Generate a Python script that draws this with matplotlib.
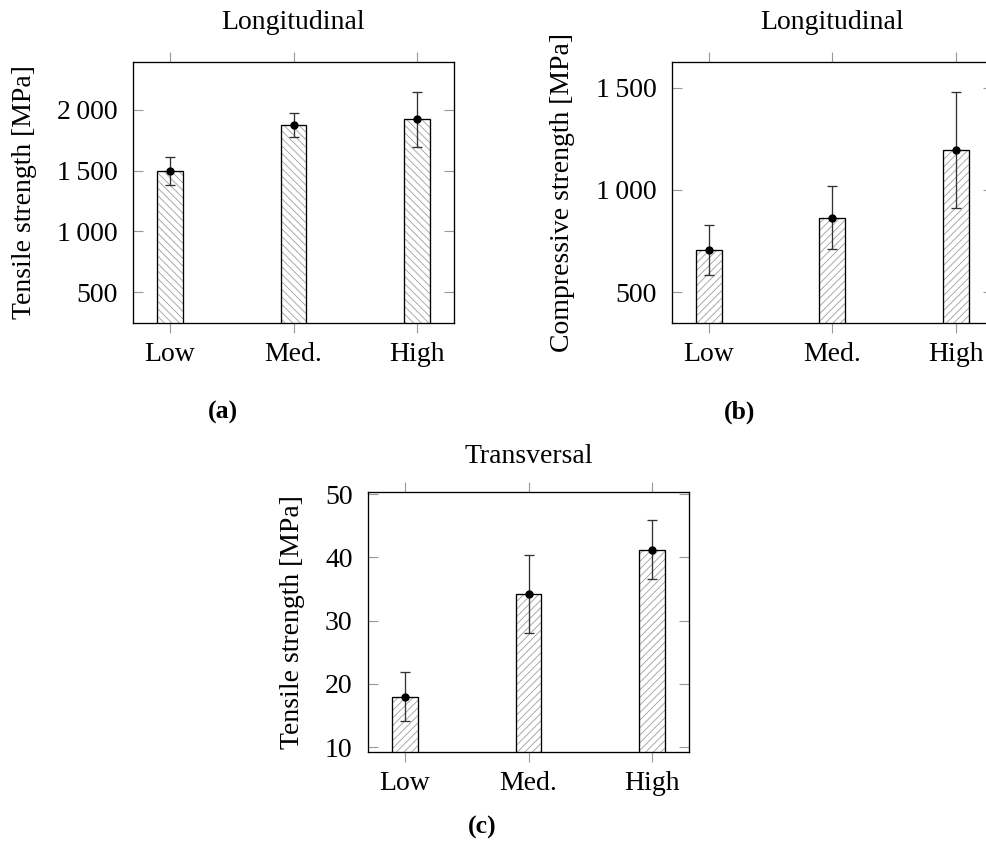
import numpy as np
import matplotlib
matplotlib.use("Agg")
import matplotlib.pyplot as plt

plt.rcParams["font.family"] = ["Liberation Serif", "DejaVu Serif"]
plt.rcParams["hatch.linewidth"] = 0.45

DPI = 136
FS = 14.7

categories = ["Low", "Med.", "High"]

# (a) longitudinal tensile strength
tens_long = [1500, 1877, 1924]
tens_long_err = [116, 97, 226]
ticks_a = [500, 1000, 1500, 2000]
labels_a = ["500", "1\u2009000", "1\u2009500", "2\u2009000"]

# (b) longitudinal compressive strength
comp_long = [707, 865, 1197]
comp_long_err = [122, 155, 283]
ticks_b = [500, 1000, 1500]
labels_b = ["500", "1\u2009000", "1\u2009500"]

# (c) transversal tensile strength
tens_trans = [18.0, 34.2, 41.2]
tens_trans_err = [3.9, 6.2, 4.65]
ticks_c = [10, 20, 30, 40, 50]
labels_c = ["10", "20", "30", "40", "50"]

fig = plt.figure(figsize=(986 / DPI, 856 / DPI), dpi=DPI, facecolor="white")


def panel(rect, vals, errs, hatch, ylim, yticks, ylabels, title, ylabel, title_y, ylabel_x):
    ax = fig.add_axes(rect)
    x = np.arange(len(categories))
    # hatch in grey, outline in black on top
    ax.bar(x, vals, width=0.21, color="white", edgecolor="#a0a0a0", hatch=hatch, linewidth=0)
    ax.bar(x, vals, width=0.21, fill=False, edgecolor="black", linewidth=0.7)
    ax.errorbar(x, vals, yerr=errs, fmt="o", color="black", ms=3.4, ecolor="#333333",
                elinewidth=0.7, capsize=2.6, capthick=0.7)
    ax.set_xlim(-0.3, 2.3)
    ax.set_ylim(*ylim)
    ax.set_xticks(x, categories)
    ax.set_yticks(yticks, ylabels)
    ax.tick_params(axis="x", direction="out", top=True, length=5.5, width=0.6,
                   color="#999999", pad=4.5, labelsize=FS)
    ax.tick_params(axis="y", direction="in", right=True, length=5.5, width=0.6,
                   color="#999999", pad=8, labelsize=FS)
    for s in ax.spines.values():
        s.set_linewidth(0.7)
    ax.set_title(title, fontsize=FS, y=title_y, pad=0)
    ax.set_ylabel(ylabel, fontsize=FS)
    ax.yaxis.set_label_coords(ylabel_x, 0.5)
    return ax


panel([133 / 986, 1 - 323 / 856, 321 / 986, 261 / 856], tens_long, tens_long_err, "\\" * 6,
      (245, 2395), ticks_a, labels_a, "Longitudinal", "Tensile strength [MPa]", 1.125, -0.30)
panel([671.7 / 986, 1 - 323 / 856, 321.3 / 986, 261 / 856], comp_long, comp_long_err, "/" * 6,
      (350, 1625), ticks_b, labels_b, "Longitudinal", "Compressive strength [MPa]", 1.125, -0.30)
panel([367.7 / 986, 1 - 752.3 / 856, 321.6 / 986, 260.6 / 856], tens_trans, tens_trans_err, "/" * 6,
      (9.2, 50.4), ticks_c, labels_c, "Transversal", "Tensile strength [MPa]", 1.11, -0.195)

for lab, (px, py) in zip(["(a)", "(b)", "(c)"], [(223, 412), (740, 412), (482, 827)]):
    fig.text(px / 986, 1 - py / 856, lab, ha="center", va="center", fontsize=FS * 0.93,
             fontweight="bold")

fig.savefig("out.png", dpi=DPI, facecolor="white")
